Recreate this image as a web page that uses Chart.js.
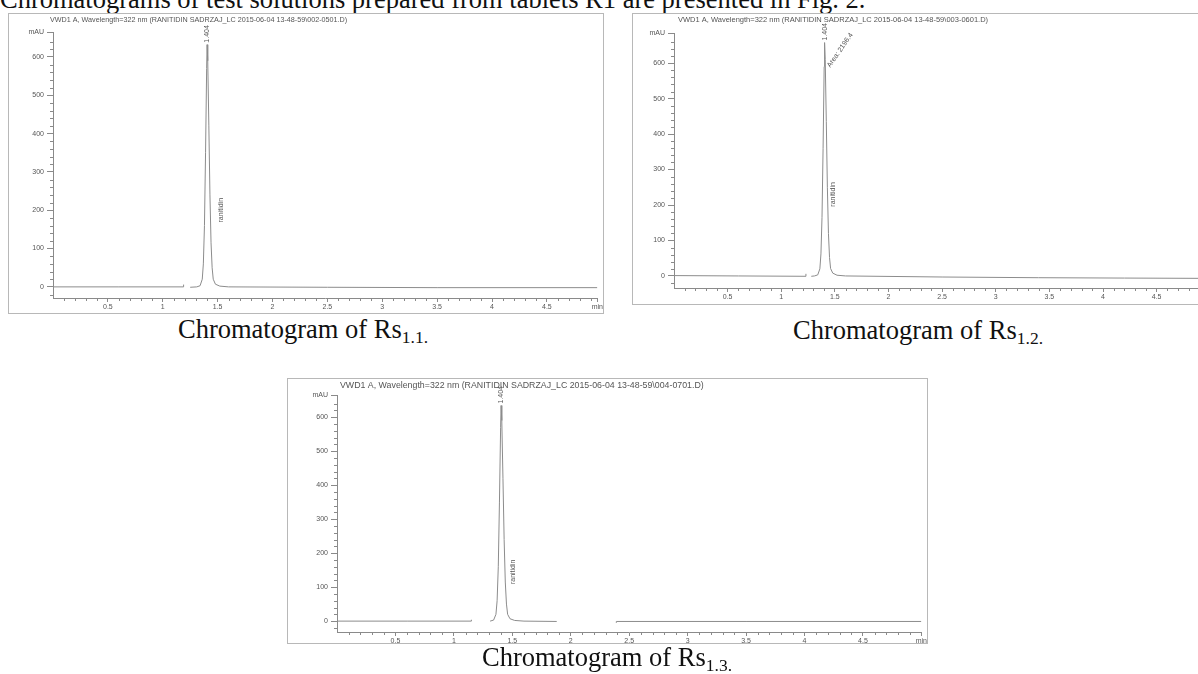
<!DOCTYPE html>
<html>
<head>
<meta charset="utf-8">
<script src="https://cdn.jsdelivr.net/npm/chart.js@4.4.1/dist/chart.umd.min.js"></script>
<style>
  html, body { margin: 0; padding: 0; }
  body { width: 1198px; height: 674px; overflow: hidden; position: relative; background: #fff;
         font-family: "Liberation Serif", "Times New Roman", serif; }
  .frame { position: absolute; border: 1px solid #b8b8b8; box-sizing: border-box; }
  canvas { position: absolute; }
  .txt { position: absolute; font-size: 26.5px; line-height: 26.5px; color: #111; white-space: nowrap; }
  .txt sub { font-size: 17.5px; line-height: 0; vertical-align: -5px; }
  .cap { width: 340px; text-align: center; }
</style>
</head>
<body>
<div class="txt" style="left:0; top:-14px;">Chromatograms of test solutions prepared from tablets R1 are presented in Fig. 2.</div>

<div class="frame" style="left:8px; top:13px; width:596px; height:301px;"></div>
<canvas id="rs11" width="596" height="301" style="left:8px; top:13px;"></canvas>
<div class="txt cap" style="left:133px; top:316px;">Chromatogram of Rs<sub>1.1.</sub></div>

<div class="frame" style="left:632px; top:13px; width:600px; height:292px;"></div>
<canvas id="rs12" width="600" height="292" style="left:632px; top:13px;"></canvas>
<div class="txt cap" style="left:748px; top:317px;">Chromatogram of Rs<sub>1.2.</sub></div>

<div class="frame" style="left:287px; top:378px; width:641px; height:266px;"></div>
<canvas id="rs13" width="641" height="266" style="left:287px; top:378px;"></canvas>
<div class="txt cap" style="left:437px; top:644px;">Chromatogram of Rs<sub>1.3.</sub></div>

<script>
// retention time (min) and detector signal (mAU)
let rs11Time   = [0, 0.6, 1.19, 1.19, 1.22, 1.25, 1.31, 1.34, 1.36, 1.37, 1.38, 1.39, 1.40, 1.404, 1.41, 1.42, 1.43, 1.44, 1.45, 1.46, 1.48, 1.52, 1.60, 2.5, 3.5, 4.96];
let rs11Signal = [0, 0, 0, 6, null, -1, 0, 3, 20, 60, 160, 350, 570, 632, 590, 420, 240, 115, 50, 20, 7, 2, 0, -1, -2, -2];

let rs12Time   = [0, 0.6, 1.23, 1.23, 1.25, 1.28, 1.31, 1.34, 1.36, 1.37, 1.38, 1.39, 1.40, 1.404, 1.41, 1.42, 1.43, 1.44, 1.45, 1.46, 1.48, 1.52, 1.60, 2.5, 3.4, 4.2, 5.1];
let rs12Signal = [1, 0, -1, 6, null, -1, 0, 3, 20, 62, 165, 360, 590, 658, 610, 435, 250, 120, 52, 21, 8, 2, 0, -3, -5, -6, -7];

let rs13Time   = [0, 0.6, 1.15, 1.15, 1.18, 1.31, 1.34, 1.36, 1.37, 1.38, 1.39, 1.40, 1.404, 1.41, 1.42, 1.43, 1.44, 1.45, 1.46, 1.48, 1.52, 1.60, 1.88, 1.90, 2.39, 2.39, 3.5, 5.0];
let rs13Signal = [0, 0, 0, 4, null, 0, 3, 20, 60, 160, 350, 570, 634, 590, 420, 240, 115, 50, 20, 7, 2, 0, -1, null, -5, -1, -1, -1];

// labelled ticks; the axis ends carry the unit names
let Y_TICKS = [0, 100, 200, 300, 400, 500, 600];
let X_TICKS = [0.5, 1, 1.5, 2, 2.5, 3, 3.5, 4, 4.5];
let Y_UNIT = 'mAU';
let X_UNIT = 'min';

let PEAK_RT = 1.404;
let PEAK_NAME = 'ranitidin';

let AXIS = '#8a8a8a';
let LABEL = '#555';
let SANS = '"Liberation Sans", Arial, sans-serif';

function chromatogram(id, time, signal, o) {
    let points = time.map((t, i) => ({ x: t, y: signal[i] }));

    // minor ticks, header line and peak labels
    let overlay = {
        id: 'overlay' + id,
        afterDraw(chart) {
            let ctx = chart.ctx;
            let a = chart.chartArea;
            let x = chart.scales.x;
            let y = chart.scales.y;
            ctx.save();
            ctx.strokeStyle = AXIS;
            ctx.lineWidth = 1;
            ctx.beginPath();
            for (let v = -20; v < y.max - 5; v += 20) {
                if (v % 100 === 0) continue;
                let py = Math.round(y.getPixelForValue(v)) + 0.5;
                ctx.moveTo(a.left - 3, py);
                ctx.lineTo(a.left, py);
            }
            for (let k = 1; k / 10 < x.max - 0.05; k++) {
                if (k % 5 === 0) continue;
                let px = Math.round(x.getPixelForValue(k / 10)) + 0.5;
                ctx.moveTo(px, a.bottom);
                ctx.lineTo(px, a.bottom + 3);
            }
            ctx.stroke();

            ctx.fillStyle = LABEL;
            ctx.font = o.titleSize + 'px ' + SANS;
            ctx.textAlign = 'left';
            ctx.textBaseline = 'top';
            ctx.fillText(o.title, a.left + o.titleDx, 3);

            let px = x.getPixelForValue(PEAK_RT);
            let apex = y.getPixelForValue(o.apex);
            ctx.font = '7px ' + SANS;
            ctx.save();
            ctx.translate(px, apex - 2);
            ctx.rotate(-Math.PI / 2);
            ctx.textBaseline = 'middle';
            ctx.fillText(PEAK_RT.toFixed(3), 0, 0);
            ctx.restore();

            ctx.save();
            ctx.translate(px + o.nameDx, y.getPixelForValue(o.nameAt));
            ctx.rotate(-Math.PI / 2);
            ctx.textAlign = 'center';
            ctx.textBaseline = 'middle';
            ctx.fillText(PEAK_NAME, 0, 0);
            ctx.restore();

            if (o.area) {
                ctx.save();
                ctx.translate(px + 4, apex + 24);
                ctx.rotate(-55 * Math.PI / 180);
                ctx.textBaseline = 'middle';
                ctx.fillText(o.area, 0, 0);
                ctx.restore();
            }
            ctx.restore();
        }
    };

    return new Chart(document.getElementById(id), {
        type: 'line',
        data: {
            datasets: [{
                data: points,
                borderColor: '#8c8c8c',
                borderWidth: 1,
                pointRadius: 0,
                tension: 0,
                spanGaps: false
            }]
        },
        options: {
            responsive: false,
            animation: false,
            layout: { padding: { top: o.padTop, right: o.padRight, left: 0, bottom: 0 } },
            plugins: { legend: { display: false }, tooltip: { enabled: false }, title: { display: false } },
            scales: {
                x: {
                    type: 'linear',
                    min: 0,
                    max: o.xMax,
                    afterBuildTicks: s => { s.ticks = X_TICKS.concat([o.xMax]).map(v => ({ value: v })); },
                    afterFit: s => { s.height = o.xAxisHeight; },
                    border: { color: AXIS },
                    grid: { drawOnChartArea: false, tickLength: 4, color: AXIS },
                    ticks: {
                        autoSkip: false, maxRotation: 0, padding: 1,
                        color: LABEL, font: { family: SANS, size: 7 },
                        callback: (v, i, ticks) => i === ticks.length - 1 ? X_UNIT : String(v)
                    }
                },
                y: {
                    min: o.yMin,
                    max: o.yMax,
                    afterBuildTicks: s => { s.ticks = Y_TICKS.concat([o.yMax]).map(v => ({ value: v })); },
                    afterFit: s => { s.width = o.yAxisWidth; },
                    border: { color: AXIS },
                    grid: { drawOnChartArea: false, tickLength: 6, color: AXIS },
                    ticks: {
                        autoSkip: false, padding: 3,
                        color: LABEL, font: { family: SANS, size: 7 },
                        callback: (v, i, ticks) => i === ticks.length - 1 ? Y_UNIT : String(v)
                    }
                }
            }
        },
        plugins: [overlay]
    });
}

chromatogram('rs11', rs11Time, rs11Signal, {
    title: 'VWD1 A, Wavelength=322 nm (RANITIDIN SADRZAJ_LC 2015-06-04 13-48-59\\002-0501.D)',
    titleSize: 7.2, titleDx: -3,
    yMin: -29, yMax: 665, xMax: 4.96,
    padTop: 19, padRight: 5, yAxisWidth: 45, xAxisHeight: 16,
    apex: 632, nameAt: 200, nameDx: 14
});

chromatogram('rs12', rs12Time, rs12Signal, {
    title: 'VWD1 A, Wavelength=322 nm (RANITIDIN SADRZAJ_LC 2015-06-04 13-48-59\\003-0601.D)',
    titleSize: 7.5, titleDx: 4,
    yMin: -34, yMax: 685, xMax: 5.1,
    padTop: 20, padRight: 11, yAxisWidth: 42, xAxisHeight: 17,
    apex: 658, nameAt: 230, nameDx: 8, area: 'Area: 2196.4'
});

chromatogram('rs13', rs13Time, rs13Signal, {
    title: 'VWD1 A, Wavelength=322 nm (RANITIDIN SADRZAJ_LC 2015-06-04 13-48-59\\004-0701.D)',
    titleSize: 8.8, titleDx: 3,
    yMin: -32, yMax: 665, xMax: 5.0,
    padTop: 17, padRight: 6, yAxisWidth: 50, xAxisHeight: 12,
    apex: 634, nameAt: 145, nameDx: 12
});
</script>
</body>
</html>
